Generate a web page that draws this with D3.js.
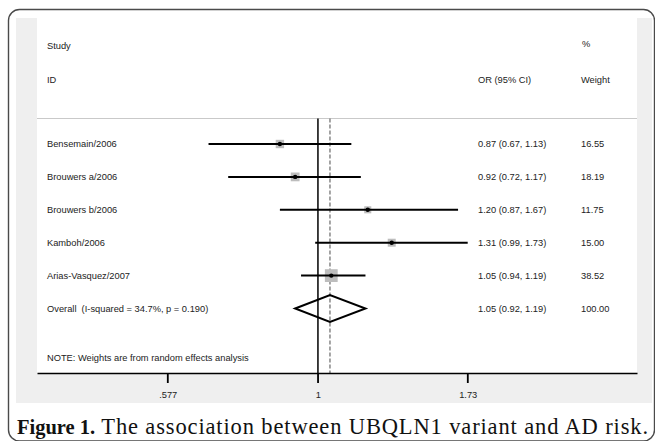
<!DOCTYPE html>
<html>
<head>
<meta charset="utf-8">
<script src="https://cdn.jsdelivr.net/npm/d3@7"></script>
<style>
  body { margin: 0; background: #fff; }
  svg { display: block; }
</style>
</head>
<body>
<script>
var width = 655;
var height = 441;

// study rows
var studies = ["Bensemain/2006", "Brouwers a/2006", "Brouwers b/2006", "Kamboh/2006", "Arias-Vasquez/2007"];
var oddsRatio = [0.87, 0.92, 1.20, 1.31, 1.05];
var ciLow = [0.67, 0.72, 0.87, 0.99, 0.94];
var ciHigh = [1.13, 1.17, 1.67, 1.73, 1.19];
var weights = [16.55, 18.19, 11.75, 15.00, 38.52];

// pooled (random effects) row
var overallLabel = "Overall  (I-squared = 34.7%, p = 0.190)";
var overallOR = 1.05;
var overallEst = 1.045; // where the dashed line/diamond tip sits in the picture
var overallLow = 0.92;
var overallHigh = 1.19;
var overallWeight = 100.00;

var tickValues = [0.577, 1, 1.73];
var tickLabels = [".577", "1", "1.73"];

var svg = d3.select("body")
            .append("svg")
            .attr("width", width)
            .attr("height", height);

var font = "'Liberation Sans', Arial, sans-serif";
var fs = 9.3;

// outer rounded frame
svg.append("rect")
  .attr("x", 8.5).attr("y", 9.5)
  .attr("width", 646).attr("height", 431.5)
  .attr("rx", 11).attr("ry", 11)
  .attr("fill", "none")
  .attr("stroke", "#4a4a4a")
  .attr("stroke-width", 1.4);

// grey graph region + white plot region
svg.append("rect").attr("x", 16).attr("y", 18).attr("width", 636).attr("height", 385).attr("fill", "#efefef");
svg.append("rect").attr("x", 37).attr("y", 18).attr("width", 600).attr("height", 355).attr("fill", "#fff");

// log x scale through the three ticks, stretched to the plot width
var base = d3.scaleLog().domain([0.577, 1.73]).range([167.7, 467.7]);
var x = d3.scaleLog().domain([base.invert(37), base.invert(637)]).range([37, 637]);

var y = d3.scalePoint().domain(d3.range(studies.length + 1)).range([144, 308.5]);

var plotTop = 118.5, axisY = 373;

svg.append("line")
  .attr("x1", 37).attr("x2", 637).attr("y1", plotTop).attr("y2", plotTop)
  .attr("stroke", "#c9c9c9").attr("stroke-width", 1);

// header text
var hdr = svg.append("g")
  .attr("font-family", font).attr("font-size", fs).attr("fill", "#222");
hdr.append("text").attr("x", 47).attr("y", 49).text("Study");
hdr.append("text").attr("x", 47).attr("y", 83).text("ID");
hdr.append("text").attr("x", 478).attr("y", 83).text("OR (95% CI)");
hdr.append("text").attr("x", 582).attr("y", 47).text("%");
hdr.append("text").attr("x", 581).attr("y", 83).text("Weight");

// null line and pooled estimate line
svg.append("line")
  .attr("x1", x(1)).attr("x2", x(1)).attr("y1", plotTop).attr("y2", axisY)
  .attr("stroke", "#000").attr("stroke-width", 1.5);
svg.append("line")
  .attr("x1", x(overallEst)).attr("x2", x(overallEst)).attr("y1", plotTop).attr("y2", axisY)
  .attr("stroke", "#6a6a6a").attr("stroke-width", 1.2)
  .attr("stroke-dasharray", "4,2");

var rows = studies.map(function(s, i) {
  return { name: s, or: oddsRatio[i], lo: ciLow[i], hi: ciHigh[i], w: weights[i], i: i };
});

// weight boxes (area proportional to weight)
svg.selectAll("rect.box")
  .data(rows).enter()
  .append("rect")
  .attr("class", "box")
  .attr("x", function(d) { return x(d.or) - Math.sqrt(d.w) * 1.03; })
  .attr("y", function(d) { return y(d.i) - Math.sqrt(d.w) * 1.03; })
  .attr("width", function(d) { return Math.sqrt(d.w) * 2.06; })
  .attr("height", function(d) { return Math.sqrt(d.w) * 2.06; })
  .attr("fill", "#bdbdbd");

svg.selectAll("line.ci")
  .data(rows).enter()
  .append("line")
  .attr("class", "ci")
  .attr("x1", function(d) { return x(d.lo); })
  .attr("x2", function(d) { return x(d.hi); })
  .attr("y1", function(d) { return y(d.i); })
  .attr("y2", function(d) { return y(d.i); })
  .attr("stroke", "#000").attr("stroke-width", 2);

svg.selectAll("circle.pt")
  .data(rows).enter()
  .append("circle")
  .attr("class", "pt")
  .attr("cx", function(d) { return x(d.or); })
  .attr("cy", function(d) { return y(d.i); })
  .attr("r", 2.2)
  .attr("fill", "#000");

// diamond
var oy = y(studies.length);
svg.append("path")
  .attr("d", "M" + x(overallLow) + "," + oy +
             "L" + x(overallEst) + "," + (oy - 13.5) +
             "L" + x(overallHigh) + "," + oy +
             "L" + x(overallEst) + "," + (oy + 13.5) + "Z")
  .attr("fill", "none").attr("stroke", "#000").attr("stroke-width", 2);

// row text
var fmt = d3.format(".2f");
var labels = rows.concat([{ name: overallLabel, or: overallOR, lo: overallLow, hi: overallHigh, w: overallWeight, i: studies.length }]);
var txt = svg.append("g")
  .attr("font-family", font).attr("font-size", fs).attr("fill", "#222");
labels.forEach(function(d) {
  txt.append("text").attr("x", 47).attr("y", y(d.i) + 3.3).attr("xml:space", "preserve").text(d.name);
  txt.append("text").attr("x", 478).attr("y", y(d.i) + 3.3)
    .text(fmt(d.or) + " (" + fmt(d.lo) + ", " + fmt(d.hi) + ")");
  txt.append("text").attr("x", 581).attr("y", y(d.i) + 3.3).text(fmt(d.w));
});
txt.append("text").attr("x", 47).attr("y", 361)
  .text("NOTE: Weights are from random effects analysis");

// axis (labels from d3.axisBottom, tick marks drawn as small rects)
var axis = d3.axisBottom(x)
  .tickValues(tickValues)
  .tickFormat(function(d, i) { return tickLabels[i]; })
  .tickSizeInner(0)
  .tickSizeOuter(0)
  .tickPadding(18);
var gAxis = svg.append("g").attr("transform", "translate(0," + axisY + ")").call(axis);
gAxis.select(".domain").attr("stroke", "#000").attr("stroke-width", 1.5);
gAxis.selectAll(".tick text")
  .attr("font-family", font).attr("font-size", fs).attr("fill", "#222");

svg.selectAll("rect.tickmark")
  .data(tickValues).enter()
  .append("rect")
  .attr("class", "tickmark")
  .attr("x", function(d) { return x(d) - 0.8; })
  .attr("y", axisY)
  .attr("width", 1.8)
  .attr("height", 10)
  .attr("fill", "#000");

// caption
var cap = svg.append("text")
  .attr("x", 17).attr("y", 434)
  .attr("font-family", "'Liberation Serif', 'Times New Roman', serif")
  .attr("fill", "#111");
cap.append("tspan").attr("font-weight", "bold").attr("font-size", 20.5).text("Figure 1.");
var rest = cap.append("tspan").attr("font-size", 22.5).text(" The association between UBQLN1 variant and AD risk.");
var boldW = cap.select("tspan").node().getComputedTextLength();
rest.attr("textLength", 648 - 17 - boldW).attr("lengthAdjust", "spacing");
</script>
</body>
</html>
